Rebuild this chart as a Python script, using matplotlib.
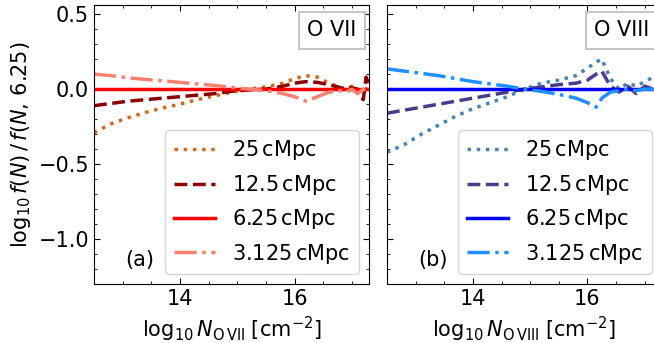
import numpy as np
import matplotlib
matplotlib.use('Agg')
import matplotlib.pyplot as plt

# box sizes (cMpc) and line styles
labels = [r'25$\,$cMpc', r'12.5$\,$cMpc', r'6.25$\,$cMpc', r'3.125$\,$cMpc']
styles = [':', '--', '-', '-.']
colors_o7 = ['chocolate', 'darkred', 'red', 'salmon']
colors_o8 = ['steelblue', 'darkslateblue', 'blue', 'dodgerblue']

# O VII: log10 N and log10 f(N)/f(N, 6.25)
N_o7 = [12.5, 12.8, 13.1, 13.4, 13.7, 14.0, 14.3, 14.6, 14.9, 15.2, 15.5, 15.8,
        16.0, 16.2, 16.4, 16.6, 16.8, 16.9, 17.0, 17.1, 17.2, 17.25, 17.3]
o7_25 = [-0.29, -0.23, -0.19, -0.155, -0.125, -0.10, -0.07, -0.045, -0.02, 0.0, 0.015, 0.04,
         0.07, 0.09, 0.08, 0.04, 0.01, 0.0, 0.02, -0.01, 0.01, 0.0, 0.0]
o7_12 = [-0.11, -0.095, -0.08, -0.07, -0.06, -0.05, -0.04, -0.03, -0.015, -0.005, 0.0, 0.02,
         0.04, 0.05, 0.045, 0.03, 0.01, 0.0, 0.01, 0.0, -0.07, 0.08, 0.03]
o7_6 = [0.0] * len(N_o7)
o7_3 = [0.10, 0.09, 0.075, 0.065, 0.055, 0.045, 0.035, 0.025, 0.012, 0.0, -0.01, -0.03,
        -0.05, -0.08, -0.05, -0.02, -0.01, -0.02, 0.0, -0.03, 0.0, -0.02, 0.0]

# O VIII
N_o8 = [12.5, 12.8, 13.1, 13.4, 13.7, 14.0, 14.3, 14.6, 14.9, 15.2, 15.5, 15.8,
        16.0, 16.15, 16.25, 16.4, 16.55, 16.7, 16.85, 17.0, 17.15, 17.3]
o8_25 = [-0.42, -0.37, -0.30, -0.24, -0.18, -0.13, -0.09, -0.05, 0.0, 0.04, 0.06, 0.09,
         0.14, 0.18, 0.20, 0.07, 0.0, 0.04, 0.02, 0.05, 0.08, 0.03]
o8_12 = [-0.16, -0.14, -0.12, -0.10, -0.08, -0.06, -0.04, -0.02, 0.0, 0.015, 0.03, 0.04,
         0.06, 0.10, 0.12, 0.02, -0.02, 0.02, -0.03, 0.02, 0.0, 0.0]
o8_6 = [0.0] * len(N_o8)
o8_3 = [0.135, 0.12, 0.105, 0.09, 0.07, 0.05, 0.035, 0.02, 0.0, -0.015, -0.035, -0.06,
        -0.09, -0.12, -0.06, -0.02, -0.01, 0.0, -0.01, 0.0, 0.0, 0.0]

fs = 15
plt.rcParams['font.size'] = fs

fig = plt.figure(figsize=(6.54, 3.43), dpi=100)
ax1 = fig.add_axes([0.1437, 0.1706, 0.4205, 0.8148])
ax2 = fig.add_axes([0.5917, 0.1706, 0.4205, 0.8148])

panels = [
    (ax1, N_o7, [o7_25, o7_12, o7_6, o7_3], colors_o7, 'O VII', '(a)',
     r'$\mathrm{log}_{10}\,N_{\mathrm{O\,VII}}\;[\mathrm{cm}^{-2}]$'),
    (ax2, N_o8, [o8_25, o8_12, o8_6, o8_3], colors_o8, 'O VIII', '(b)',
     r'$\mathrm{log}_{10}\,N_{\mathrm{O\,VIII}}\;[\mathrm{cm}^{-2}]$'),
]

for ax, N, series, cols, ion, tag, xlab in panels:
    for y, ls, c, lab in zip(series, styles, cols, labels):
        ax.plot(N, y, linestyle=ls, color=c, linewidth=2.5, label=lab)
    ax.set_xlim(12.5, 17.3)
    ax.set_ylim(-1.3, 0.56)
    ax.xaxis.set_major_locator(matplotlib.ticker.MultipleLocator(2))
    ax.xaxis.set_minor_locator(matplotlib.ticker.MultipleLocator(0.5))
    ax.yaxis.set_major_locator(matplotlib.ticker.MultipleLocator(0.5))
    ax.yaxis.set_minor_locator(matplotlib.ticker.MultipleLocator(0.1))
    ax.tick_params(which='both', direction='in', top=True, right=True, labelsize=fs)
    ax.tick_params(which='major', length=4.5)
    ax.tick_params(which='minor', length=2.5)
    ax.set_xlabel(xlab, fontsize=fs)
    ax.legend(loc='lower right', fontsize=fs, handlelength=2.0)
    ax.text(0.955, 0.945, ion, transform=ax.transAxes, ha='right', va='top', fontsize=fs,
            bbox=dict(boxstyle='square,pad=0.4', facecolor='white',
                      edgecolor='0.75', linewidth=1.3))
    ax.text(0.115, 0.088, tag, transform=ax.transAxes, ha='left', va='center', fontsize=fs)

ax2.tick_params(labelleft=False)
ax1.set_ylabel(r'$\mathrm{log}_{10}\,f(N)\,/\,f(N,\,6.25)$', fontsize=fs)

fig.savefig('out.png', dpi=100)
